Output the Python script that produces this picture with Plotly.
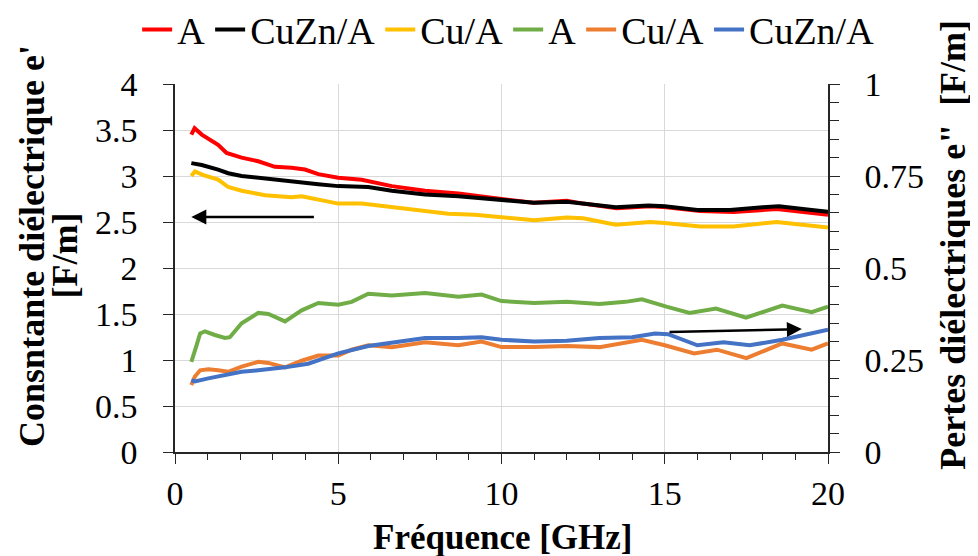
import plotly.graph_objects as go

# e' (constante diélectrique), axe gauche
freq_a_e1 = [0.5, 0.6, 0.82, 1.32, 1.58, 2.04, 2.55, 3.06, 3.57, 3.98, 4.39, 5.0, 5.72, 6.64, 7.66, 8.68,
             10.0, 10.97, 12.0, 12.5, 13.53, 14.55, 15.05, 16.08, 17.1, 18.43, 20.0]
a_e1 = [3.45, 3.52, 3.45, 3.34, 3.25, 3.20, 3.16, 3.10, 3.09, 3.07, 3.02, 2.98, 2.96, 2.89, 2.84, 2.81,
        2.75, 2.71, 2.73, 2.70, 2.65, 2.67, 2.66, 2.62, 2.61, 2.64, 2.58]

freq_cuzn_e1 = [0.5, 0.82, 1.32, 1.63, 2.04, 2.76, 3.57, 4.39, 5.0, 5.92, 6.64, 7.66, 8.68, 10.0, 11.0,
                12.0, 13.5, 14.5, 15.0, 16.0, 17.0, 18.0, 18.5, 19.5, 20.0]
cuzn_e1 = [3.14, 3.12, 3.07, 3.03, 3.00, 2.97, 2.94, 2.91, 2.89, 2.88, 2.84, 2.80, 2.78, 2.74, 2.71,
           2.72, 2.66, 2.68, 2.67, 2.63, 2.63, 2.66, 2.67, 2.63, 2.61]

freq_cu_e1 = [0.5, 0.61, 0.87, 1.32, 1.63, 2.04, 2.76, 3.57, 3.88, 4.39, 5.0, 5.72, 6.64, 7.66, 8.37, 9.19,
              10.0, 11.0, 12.0, 12.5, 13.5, 14.55, 15.0, 16.08, 17.1, 18.43, 20.0]
cu_e1 = [3.00, 3.05, 3.01, 2.96, 2.88, 2.84, 2.79, 2.77, 2.78, 2.74, 2.70, 2.70, 2.66, 2.61, 2.59, 2.58,
         2.55, 2.52, 2.55, 2.54, 2.47, 2.50, 2.49, 2.45, 2.45, 2.50, 2.44]

# e'' (pertes diélectriques), axe droit
freq_a_e2 = [0.5, 0.55, 0.66, 0.77, 0.92, 1.22, 1.53, 1.68, 2.04, 2.55, 2.86, 3.37, 3.88, 4.39, 5.0, 5.41,
             5.92, 6.64, 7.66, 8.68, 9.39, 10.0, 11.0, 12.0, 13.0, 13.8, 14.3, 15.05, 15.76, 16.57, 17.49,
             18.6, 19.5, 20.0]
a_e2 = [0.245, 0.262, 0.29, 0.322, 0.328, 0.318, 0.31, 0.312, 0.35, 0.378, 0.375, 0.355, 0.385, 0.405,
        0.40, 0.408, 0.43, 0.425, 0.432, 0.422, 0.428, 0.41, 0.405, 0.408, 0.402, 0.408, 0.415, 0.395,
        0.378, 0.39, 0.365, 0.398, 0.38, 0.395]

freq_cu_e2 = [0.5, 0.61, 0.77, 1.02, 1.32, 1.63, 2.04, 2.55, 2.86, 3.37, 3.88, 4.39, 5.0, 5.41, 5.92,
              6.64, 7.66, 8.68, 9.39, 10.0, 11.0, 12.0, 13.0, 14.3, 15.0, 15.9, 16.6, 17.5, 18.6, 19.5, 20.0]
cu_e2 = [0.182, 0.205, 0.222, 0.225, 0.222, 0.218, 0.232, 0.245, 0.242, 0.23, 0.248, 0.262, 0.262,
         0.278, 0.29, 0.285, 0.298, 0.29, 0.30, 0.285, 0.285, 0.288, 0.285, 0.305, 0.29, 0.268, 0.278,
         0.255, 0.295, 0.278, 0.295]

freq_cuzn_e2 = [0.5, 0.61, 1.02, 1.53, 2.04, 2.55, 3.37, 4.08, 5.0, 5.92, 6.64, 7.66, 8.68, 9.39, 10.0,
                11.0, 12.0, 13.0, 14.0, 14.7, 15.1, 16.0, 16.8, 17.6, 18.6, 19.4, 20.0]
cuzn_e2 = [0.195, 0.192, 0.20, 0.21, 0.218, 0.222, 0.23, 0.24, 0.268, 0.288, 0.298, 0.31, 0.31, 0.312,
           0.305, 0.30, 0.302, 0.31, 0.312, 0.322, 0.32, 0.29, 0.298, 0.29, 0.305, 0.322, 0.332]

FONT = "Liberation Serif"
TICK_FS = 34
LEG_FS = 38
LW = 4

fig = go.Figure()
series = [
    (freq_a_e1, a_e1, "A", "#FF0000", "y"),
    (freq_cuzn_e1, cuzn_e1, "CuZn/A", "#000000", "y"),
    (freq_cu_e1, cu_e1, "Cu/A", "#FFC000", "y"),
    (freq_a_e2, a_e2, "A", "#70AD47", "y2"),
    (freq_cu_e2, cu_e2, "Cu/A", "#ED7D31", "y2"),
    (freq_cuzn_e2, cuzn_e2, "CuZn/A", "#4472C4", "y2"),
]
for x, y, name, color, axis in series:
    fig.add_trace(go.Scatter(x=x, y=y, name=name, mode="lines", yaxis=axis,
                             line=dict(color=color, width=LW)))

# flèches indiquant l'axe de chaque groupe de courbes
fig.add_annotation(x=0.5, y=2.555, ax=4.3, ay=2.555, xref="x", yref="y", axref="x", ayref="y",
                   text="", showarrow=True, arrowhead=2, arrowsize=1.2, arrowwidth=2.5, arrowcolor="black")
fig.add_annotation(x=19.2, y=0.334, ax=15.1, ay=0.326, xref="x", yref="y2", axref="x", ayref="y2",
                   text="", showarrow=True, arrowhead=2, arrowsize=1.2, arrowwidth=2.5, arrowcolor="black")

# titres des axes
def title_font(size):
    return dict(family=FONT, size=size, color="black")

fig.add_annotation(text="<b>Consntante diélectrique e'</b>", x=-0.219, y=0.56, xref="paper", yref="paper",
                   textangle=-90, showarrow=False, xanchor="center", yanchor="middle", font=title_font(36))
fig.add_annotation(text="<b>[F/m]</b>", x=-0.168, y=0.535, xref="paper", yref="paper",
                   textangle=-90, showarrow=False, xanchor="center", yanchor="middle", font=title_font(36))
fig.add_annotation(text="<b>Pertes diélectriques e\"  [F/m]</b>", x=1.191, y=0.5625, xref="paper",
                   yref="paper", textangle=-90, showarrow=False, xanchor="center", yanchor="middle",
                   font=title_font(36))
fig.add_annotation(text="<b>Fréquence [GHz]</b>", x=0.502, y=-0.231, xref="paper", yref="paper",
                   showarrow=False, xanchor="center", yanchor="middle", font=title_font(35))

axis_col = "#262626"
grid_col = "#D9D9D9"
fig.update_layout(
    width=978, height=556,
    margin=dict(l=167, r=158, t=76, b=112, autoexpand=False),
    paper_bgcolor="white", plot_bgcolor="white",
    font=dict(family=FONT, size=TICK_FS, color="black"),
    showlegend=True,
    legend=dict(orientation="h", x=-0.058, xanchor="left", y=1.147, yanchor="middle",
                font=dict(size=LEG_FS), itemwidth=30, tracegroupgap=0, bgcolor="rgba(0,0,0,0)"),
    xaxis=dict(range=[0, 20], dtick=5, showgrid=True, gridcolor=grid_col, gridwidth=1,
               showline=True, linecolor=axis_col, linewidth=1.5, ticks="outside", ticklen=10,
               tickcolor=axis_col, zeroline=False, automargin=False, ticklabelstandoff=0,
               minor=dict(dtick=1, ticks="outside", ticklen=6, tickcolor=axis_col, showgrid=False)),
    yaxis=dict(range=[0, 4], dtick=0.5, showgrid=True, gridcolor=grid_col, gridwidth=1,
               showline=True, linecolor=axis_col, linewidth=1.5, ticks="outside", ticklen=10,
               tickcolor=axis_col, zeroline=False, automargin=False, ticklabelstandoff=19),
    yaxis2=dict(range=[0, 1], dtick=0.25, overlaying="y", side="right", showgrid=False,
                showline=True, linecolor=axis_col, linewidth=1.5, ticks="outside", ticklen=10,
                tickcolor=axis_col, zeroline=False, automargin=False, ticklabelstandoff=18,
                minor=dict(dtick=0.05, ticks="outside", ticklen=9, tickcolor=axis_col)),
)

fig.write_html("out.html")
